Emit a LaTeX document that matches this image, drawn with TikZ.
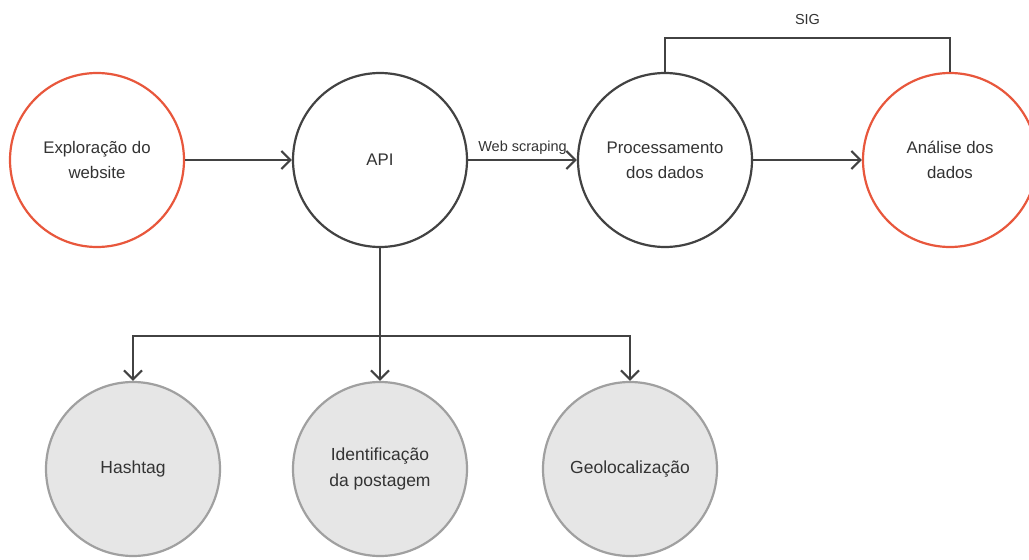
\documentclass[tikz,border=0pt]{standalone}
\usepackage{fontspec}
\setmainfont{Liberation Sans}
\usetikzlibrary{arrows.meta}

\definecolor{laranja}{HTML}{E8573C}
\definecolor{linha}{HTML}{424242}
\definecolor{cinza}{HTML}{E6E6E6}
\definecolor{cinzaborda}{HTML}{A0A0A0}
\definecolor{texto}{HTML}{333333}

\begin{document}
\begin{tikzpicture}[
    x=1pt, y=-1pt,
    font=\fontsize{16.8}{25}\selectfont,
    text=texto,
    etapa/.style={
        circle,
        draw=linha,
        line width=2.2pt,
        fill=white,
        align=center,
        minimum size=174pt,
        inner sep=0pt
    },
    extremo/.style={
        etapa,
        draw=laranja
    },
    dado/.style={
        etapa,
        draw=cinzaborda,
        fill=cinza,
        font=\fontsize{17.5}{26}\selectfont
    },
    ligacao/.style={
        draw=linha,
        line width=2.2pt
    },
    seta/.style={
        ligacao,
        -{Straight Barb[length=9pt, width=18pt]}
    },
    rotulo/.style={
        font=\fontsize{14.5}{18}\selectfont,
        inner sep=4pt
    }
]

\useasboundingbox (0,0) rectangle (1029,560);

% etapas principais
\node[extremo] (explora) at (97,160) {Exploração do\\website};
\node[etapa] (api) at (380,160) {API};
\node[etapa] (processa) at (665,160) {Processamento\\dos dados};
\node[extremo] (analise) at (950,160) {Análise dos\\dados};

% dados obtidos pela API
\node[dado] (hashtag) at (133,469) {Hashtag};
\node[dado] (ident) at (380,469) {Identificação\\da postagem};
\node[dado] (geo) at (630,469) {Geolocalização};

% ligações
\draw[seta] (explora) -- (api);
\draw[seta] (api) -- node[rotulo, above] {Web scraping} (processa);
\draw[seta] (processa) -- (analise);

\draw[ligacao] (processa.north) -- ++(0,-34) -| (analise.north)
    node[rotulo, pos=0.25, above=8pt] {SIG};

\coordinate (ramo) at (380,336);
\draw[ligacao] (api.south) -- (ramo);
\draw[seta] (ramo) -| (hashtag.north);
\draw[seta] (ramo) -- (ident.north);
\draw[seta] (ramo) -| (geo.north);

\end{tikzpicture}
\end{document}
